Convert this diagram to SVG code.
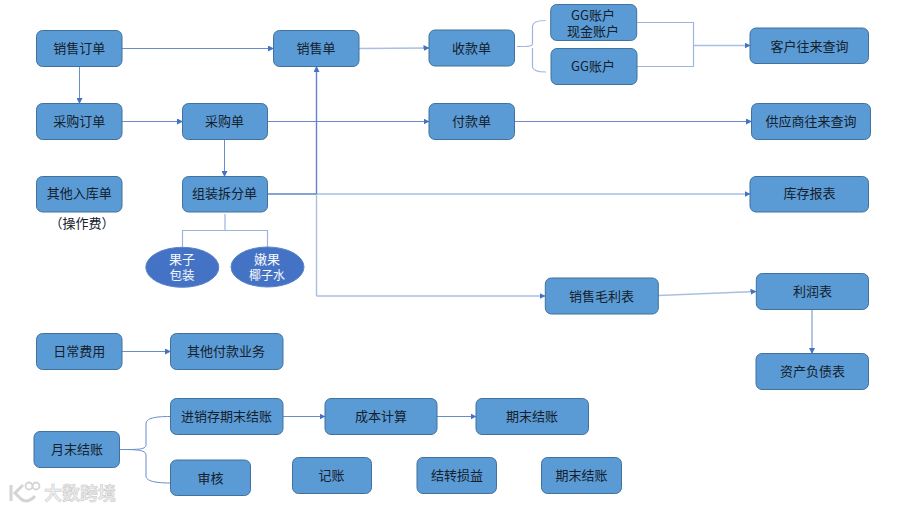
<svg xmlns="http://www.w3.org/2000/svg" width="900" height="510" viewBox="0 0 900 510">
<style>
.n{fill:#5b9bd5;stroke:#41719c;stroke-width:1}
.e{fill:#4472c4;stroke:#5b84cc;stroke-width:1}
.t{font-family:"Noto Sans CJK SC","Liberation Sans",sans-serif;font-size:13px;fill:#14202c;text-anchor:middle}
.w{fill:#f4f7fc}
.c{fill:none;stroke:#6a8ccb;stroke-width:1}
.p{fill:none;stroke:#a9bfe2;stroke-width:1.400}
.d{fill:none;stroke:#5f83c8;stroke-width:1.400}
.l{fill:none;stroke:#9db5dd;stroke-width:1.200}
.a{marker-end:url(#m)}
.wm{font-family:"Noto Sans CJK SC","Liberation Sans",sans-serif;font-size:18px;font-weight:700;fill:#ececec;stroke:#c8c8c8;stroke-width:.5}
</style>
<defs><marker id="m" markerUnits="userSpaceOnUse" markerWidth="6" markerHeight="6" viewBox="0 0 6 6" refX="5.500" refY="3" orient="auto"><path d="M0 0L6 3L0 6Z" fill="#4472c4"/></marker></defs>
<rect width="900" height="510" fill="#fff"/>
<g id="connectors">
<path class="c a" d="M122 48.500H273.500"/>
<path class="p a" d="M359 48.500L429 48"/>
<path class="c a" d="M79.500 66.500V103.500"/>
<path class="c a" d="M122 121.500H182.500"/>
<path class="c a" d="M267.500 121.500H429"/>
<path class="c a" d="M514.500 121.500H751.500"/>
<path class="c a" d="M224.500 139.500V176.500"/>
<path class="p a" d="M316.500 194H750"/>
<path class="d" d="M267.500 194H316.500"/>
<path class="p a" d="M316.500 296H545"/>
<path class="p" d="M316.500 296V194"/>
<path class="d a" d="M316.500 194V66.500"/>
<path class="l" d="M225 214V230M182.500 247V230.500H267.500V247"/>
<path class="l" d="M517 46.500C525 46.500 532 47 532.500 44V26C533 21.500 538 20.500 545.500 20.500M532.500 48V67C533 71 538 72 546 72"/>
<path class="l" d="M637 22.500H693.500V66.500H637"/>
<path class="p a" d="M693.500 45.500H750"/>
<path class="p a" d="M658.500 295.500L756 291.500"/>
<path class="c a" d="M812 309.500V353.500"/>
<path class="c a" d="M122 351.500H170.500"/>
<path class="c a" d="M283 416.500H325"/>
<path class="c a" d="M437 416.500H476"/>
<path class="c" d="M119.500 449.500C135 449.500 146 450 146 445V424C146 418 155 416.500 170.500 416.500M119.500 449.500C135 449.500 146 449.500 146 455V476C146 481 155 483 170.500 483"/>
</g>
<g id="n1"><rect class="n" x="36.500" y="30.500" width="85.500" height="36" rx="6"/><text class="t" x="79.300" y="53">销售订单</text></g>
<g id="n2"><rect class="n" x="273.500" y="30.500" width="85.500" height="36" rx="6"/><text class="t" x="316" y="53">销售单</text></g>
<g id="n3"><rect class="n" x="429" y="30" width="85.500" height="36" rx="6"/><text class="t" x="471.500" y="52.500">收款单</text></g>
<g id="n4"><rect class="n" x="550.700" y="4.500" width="86" height="36" rx="6"/><text class="t" x="593" y="20">GG账户<tspan x="593" y="35.500">现金账户</tspan></text></g>
<g id="n5"><rect class="n" x="551" y="48.500" width="86" height="36" rx="6"/><text class="t" x="593" y="71">GG账户</text></g>
<g id="n6"><rect class="n" x="750" y="28" width="118.500" height="35.500" rx="6"/><text class="t" x="809.500" y="50.500">客户往来查询</text></g>
<g id="n7"><rect class="n" x="36.500" y="103.500" width="85.500" height="36" rx="6"/><text class="t" x="79.300" y="126">采购订单</text></g>
<g id="n8"><rect class="n" x="182.500" y="103.500" width="85" height="36" rx="6"/><text class="t" x="224.500" y="126">采购单</text></g>
<g id="n9"><rect class="n" x="429" y="103.500" width="85.500" height="36" rx="6"/><text class="t" x="471.500" y="126">付款单</text></g>
<g id="n10"><rect class="n" x="751.500" y="103.500" width="119" height="36" rx="6"/><text class="t" x="811" y="126">供应商往来查询</text></g>
<g id="n11"><rect class="n" x="36.500" y="176.500" width="85.500" height="35.500" rx="6"/><text class="t" x="79.300" y="198">其他入库单</text></g>
<g id="n12"><rect class="n" x="182.500" y="176.500" width="85" height="35.500" rx="6"/><text class="t" x="224.500" y="198">组装拆分单</text></g>
<g id="n13"><rect class="n" x="750" y="176.500" width="118.500" height="35.500" rx="6"/><text class="t" x="809.500" y="198">库存报表</text></g>
<g id="n14"><text class="t" x="82" y="228">（操作费）</text></g>
<g id="n15"><ellipse class="e" cx="182.300" cy="267.300" rx="36.500" ry="20"/><text class="t w" x="182" y="264">果子<tspan x="182" y="280" style="font-size:12.500px">包装</tspan></text></g>
<g id="n16"><ellipse class="e" cx="267.500" cy="267" rx="36.500" ry="20"/><text class="t w" x="267" y="264">嫩果<tspan x="267" y="280" style="font-size:12px">椰子水</tspan></text></g>
<g id="n17"><rect class="n" x="545.300" y="278" width="113" height="36" rx="6"/><text class="t" x="601.500" y="300.500">销售毛利表</text></g>
<g id="n18"><rect class="n" x="756.300" y="273.500" width="112.200" height="36" rx="6"/><text class="t" x="812.500" y="296">利润表</text></g>
<g id="n19"><rect class="n" x="756" y="353.500" width="112.500" height="36" rx="6"/><text class="t" x="812.500" y="376">资产负债表</text></g>
<g id="n20"><rect class="n" x="36.500" y="333.500" width="85.500" height="36" rx="6"/><text class="t" x="79.300" y="356">日常费用</text></g>
<g id="n21"><rect class="n" x="170.500" y="333.500" width="112.500" height="36" rx="6"/><text class="t" x="226" y="356">其他付款业务</text></g>
<g id="n22"><rect class="n" x="170.500" y="398.500" width="112.500" height="36" rx="6"/><text class="t" x="226.500" y="421">进销存期末结账</text></g>
<g id="n23"><rect class="n" x="325" y="398.500" width="112" height="36" rx="6"/><text class="t" x="381" y="421">成本计算</text></g>
<g id="n24"><rect class="n" x="476" y="398.500" width="112.500" height="36" rx="6"/><text class="t" x="532" y="421">期末结账</text></g>
<g id="n25"><rect class="n" x="34" y="431.500" width="85.500" height="36" rx="6"/><text class="t" x="77" y="454">月末结账</text></g>
<g id="n26"><rect class="n" x="170.500" y="460" width="80" height="35.500" rx="6"/><text class="t" x="210.500" y="482.500">审核</text></g>
<g id="n27"><rect class="n" x="292.500" y="457.500" width="79" height="36" rx="6"/><text class="t" x="331.500" y="480">记账</text></g>
<g id="n28"><rect class="n" x="417" y="457.500" width="79.500" height="36" rx="6"/><text class="t" x="457" y="480">结转损益</text></g>
<g id="n29"><rect class="n" x="541.500" y="457.500" width="80" height="36" rx="6"/><text class="t" x="581.500" y="480">期末结账</text></g>
<g id="watermark">
<path d="M11 485V501M23 485L15 493L21 499C26 503 32 500 35 496" fill="none" stroke="#d4d4d4" stroke-width="3"/>
<circle cx="29" cy="486" r="3.500" fill="none" stroke="#d4d4d4" stroke-width="1.800"/><circle cx="36" cy="486" r="3.500" fill="none" stroke="#d4d4d4" stroke-width="1.800"/>
<text class="wm" x="44" y="499.500">大数跨境</text></g>
</svg>
